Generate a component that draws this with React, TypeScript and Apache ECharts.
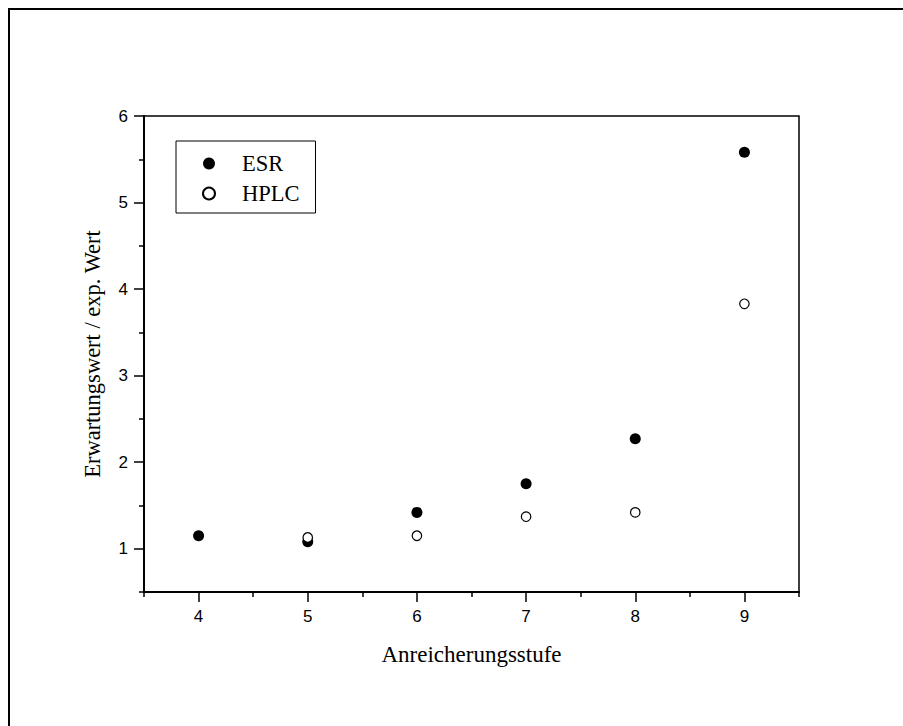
import React, { useEffect, useRef } from "react";
import * as echarts from "echarts";

// Enrichment stages and measured ratios (expected value / experimental value)
const stages: number[] = [4, 5, 6, 7, 8, 9];
const esrValues: number[] = [1.15, 1.08, 1.42, 1.75, 2.27, 5.58];
const hplcStages: number[] = [5, 6, 7, 8, 9];
const hplcValues: number[] = [1.13, 1.15, 1.37, 1.42, 3.83];

// Axis ticks
const xMajorTicks: number[] = [4, 5, 6, 7, 8, 9];
const xMinorTicks: number[] = [3.5, 4.5, 5.5, 6.5, 7.5, 8.5, 9.5];
const yMajorTicks: number[] = [1, 2, 3, 4, 5, 6];
const yMinorTicks: number[] = [0.5, 1.5, 2.5, 3.5, 4.5, 5.5];

const SANS = "Liberation Sans";
const SERIF = "Liberation Serif";

export default function App() {
  const ref = useRef<HTMLDivElement>(null);

  useEffect(() => {
    if (!ref.current) return;
    const chart = echarts.init(ref.current, undefined, { renderer: "svg" });

    const esrData = stages.map((s, i) => [s, esrValues[i]]);
    const hplcData = hplcStages.map((s, i) => [s, hplcValues[i]]);

    const tickLabel = { fontFamily: SANS, fontSize: 17, color: "#000" };

    chart.setOption({
      animation: false,
      backgroundColor: "#fff",
      graphic: [
        {
          type: "rect",
          shape: { x: 9, y: 9, width: 1000, height: 1000 },
          style: { fill: "none", stroke: "#000", lineWidth: 2 },
          silent: true,
          z: 0,
        },
      ],
      grid: {
        left: 144,
        top: 116,
        width: 655,
        height: 476,
        show: true,
        borderColor: "#000",
        borderWidth: 1.5,
        backgroundColor: "transparent",
      },
      legend: {
        orient: "vertical",
        left: 176,
        top: 141,
        padding: [11, 16, 8, 26],
        itemWidth: 12,
        itemHeight: 12,
        itemGap: 7,
        borderColor: "#000",
        borderWidth: 1,
        backgroundColor: "#fff",
        textStyle: {
          fontFamily: SERIF,
          fontSize: 22.5,
          color: "#000",
          lineHeight: 20,
          padding: [0, 0, 0, 22],
        },
        data: ["ESR", "HPLC"],
      },
      xAxis: [
        {
          type: "value",
          min: 3.5,
          max: 9.5,
          name: "Anreicherungsstufe",
          nameLocation: "middle",
          nameGap: 51,
          nameTextStyle: { fontFamily: SERIF, fontSize: 23, color: "#000" },
          axisLine: { show: true, onZero: false, lineStyle: { color: "#000", width: 2 } },
          axisTick: {
            show: true,
            length: 10,
            customValues: xMajorTicks,
            lineStyle: { color: "#000", width: 1.5 },
          },
          axisLabel: { customValues: xMajorTicks, margin: 16, ...tickLabel },
          splitLine: { show: false },
        },
        {
          type: "value",
          min: 3.5,
          max: 9.5,
          position: "bottom",
          axisLine: { show: false, onZero: false },
          axisTick: {
            show: true,
            length: 5,
            customValues: xMinorTicks,
            lineStyle: { color: "#000", width: 1.5 },
          },
          axisLabel: { show: false },
          splitLine: { show: false },
        },
      ],
      yAxis: [
        {
          type: "value",
          min: 0.5,
          max: 6,
          name: "Erwartungswert / exp. Wert",
          nameLocation: "middle",
          nameGap: 40,
          nameTextStyle: { fontFamily: SERIF, fontSize: 22.5, color: "#000" },
          axisLine: { show: true, onZero: false, lineStyle: { color: "#000", width: 2 } },
          axisTick: {
            show: true,
            length: 10,
            customValues: yMajorTicks,
            lineStyle: { color: "#000", width: 1.5 },
          },
          axisLabel: { customValues: yMajorTicks, margin: 16, ...tickLabel },
          splitLine: { show: false },
        },
        {
          type: "value",
          min: 0.5,
          max: 6,
          position: "left",
          axisLine: { show: false, onZero: false },
          axisTick: {
            show: true,
            length: 5,
            customValues: yMinorTicks,
            lineStyle: { color: "#000", width: 1.5 },
          },
          axisLabel: { show: false },
          splitLine: { show: false },
        },
      ],
      series: [
        {
          name: "ESR",
          type: "scatter",
          symbol: "circle",
          symbolSize: 11,
          itemStyle: { color: "#000", opacity: 1 },
          data: esrData,
        },
        {
          name: "HPLC",
          type: "scatter",
          symbol: "circle",
          symbolSize: 9.5,
          itemStyle: { color: "#fff", borderColor: "#000", borderWidth: 1.2, opacity: 1 },
          data: hplcData,
        },
      ],
    });

    return () => chart.dispose();
  }, []);

  return (
    <div
      ref={ref}
      style={{ position: "fixed", left: 0, top: 0, width: 903, height: 726, background: "#fff" }}
    />
  );
}
